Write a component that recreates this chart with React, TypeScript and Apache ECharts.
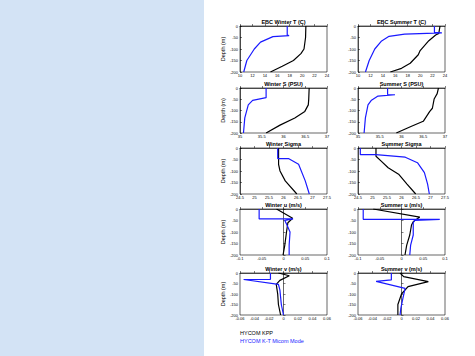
import React, { useEffect, useRef } from "react";
import * as echarts from "echarts";

// ---- data: [value, depth] pairs ----
const depthTicks = [0, -50, -100, -150, -200];
const titles = [
  ["EBC Winter T (C)", "EBC Summer T (C)"],
  ["Winter S (PSU)", "Summer S (PSU)"],
  ["Winter Sigma", "Summer Sigma"],
  ["Winter u (m/s)", "Summer u (m/s)"],
  ["Winter v (m/s)", "Summer v (m/s)"],
];
const legendNames = ["HYCOM KPP", "HYCOM K-T Micom Mode"];

const winterT_kpp = [[20.6, 0], [20.55, -50], [20.3, -100], [19.8, -120], [18.6, -150], [16.8, -175], [14.9, -200]];
const winterT_micom = [[17.6, 0], [17.6, -40], [17.9, -42], [15.3, -46], [13.3, -70], [12.3, -100], [11.1, -150], [10.6, -200]];
const summerT_kpp = [[23.2, 0], [23.0, -32], [22.5, -39], [21.4, -64], [20.0, -107], [19.7, -125], [18.4, -162], [17.0, -184], [15.2, -200]];
const summerT_micom = [[22.3, 0], [22.3, -28], [23.5, -30], [17.5, -35], [15.0, -45], [13.8, -65], [12.7, -100], [11.8, -150], [11.2, -200]];

const winterS_kpp = [[36.59, 0], [36.58, -50], [36.57, -75], [36.49, -104], [36.26, -133], [35.92, -165], [35.6, -200]];
const winterS_micom = [[35.6, 0], [35.6, -43], [35.29, -55], [35.19, -75], [35.11, -133], [35.08, -200]];
const summerS_kpp = [[36.85, 0], [36.82, -25], [36.75, -49], [36.71, -90], [36.65, -104], [36.5, -148], [36.23, -170], [35.88, -200]];
const summerS_micom = [[35.68, 0], [35.68, -29], [35.85, -30], [35.46, -36], [35.31, -54], [35.23, -75], [35.17, -133], [35.14, -200]];

const winterSig_kpp = [[25.83, 0], [25.83, -71], [25.88, -100], [26.06, -143], [26.46, -200]];
const winterSig_micom = [[25.8, 0], [25.8, -46], [26.17, -46], [26.52, -71], [26.75, -143], [26.89, -200]];
const summerSig_kpp = [[25.12, 0], [25.12, -36], [25.3, -57], [25.54, -86], [25.9, -114], [26.19, -157], [26.49, -200]];
const summerSig_micom = [[24.58, 0], [24.58, -29], [25.12, -29], [26.13, -40], [26.55, -64], [26.79, -107], [26.9, -157], [26.96, -200]];

const winterU_kpp = [[-0.016, 0], [0.021, -40], [0.01, -60], [0.007, -99], [0.003, -157], [-0.001, -200]];
const winterU_micom = [[-0.056, 0], [-0.056, -43], [0.022, -43], [0.003, -50], [0.008, -70], [0.015, -100], [0.013, -157], [0.013, -200]];
const summerU_kpp = [[-0.065, 0], [0.042, -35], [0.027, -55], [0.023, -70], [0.019, -113], [0.012, -157], [0.008, -200]];
const summerU_micom = [[-0.088, 0], [-0.088, -45], [0.088, -45], [0.03, -50], [0.027, -60], [0.027, -113], [0.021, -157], [0.019, -200]];

const winterV_kpp = [[-0.007, 0], [0.008, -13], [-0.005, -35], [-0.01, -54], [-0.008, -100], [-0.007, -150], [-0.004, -200]];
const winterV_micom = [[-0.018, 0], [-0.018, -30], [-0.055, -31], [-0.007, -54], [-0.005, -80], [-0.003, -150], [0, -200]];
const summerV_kpp = [[-0.002, 0], [0.003, -17], [0.037, -41], [0.009, -65], [0.0, -100], [-0.005, -150], [-0.005, -200]];
const summerV_micom = [[-0.014, 0], [-0.014, -33], [-0.035, -40], [0.005, -73], [0.002, -120], [-0.001, -170], [-0.002, -200]];

// x-axis ranges per row: [min, max, interval]
const xRanges = [
  [10, 24, 2],
  [35, 37, 0.5],
  [24.5, 27.5, 0.5],
  [-0.1, 0.1, 0.05],
  [-0.06, 0.06, 0.02],
];

const panelData = [
  [[winterT_kpp, winterT_micom], [summerT_kpp, summerT_micom]],
  [[winterS_kpp, winterS_micom], [summerS_kpp, summerS_micom]],
  [[winterSig_kpp, winterSig_micom], [summerSig_kpp, summerSig_micom]],
  [[winterU_kpp, winterU_micom], [summerU_kpp, summerU_micom]],
  [[winterV_kpp, winterV_micom], [summerV_kpp, summerV_micom]],
];

const COLORS = ["#000000", "#1a1aff"];
const FONT = "Liberation Sans";

// layout
const colLeft = [240, 358];
const plotW = 87;
const rowTop = [26, 88, 148, 209, 273];
const rowH = [46, 45, 46, 46, 42];

function fmt(v: number) {
  const r = Math.round(v * 1000) / 1000;
  return String(r);
}

export default function App() {
  const ref = useRef<HTMLDivElement>(null);
  useEffect(() => {
    if (!ref.current) return;
    const chart = echarts.init(ref.current, undefined, { renderer: "svg" });
    const grids: any[] = [];
    const xAxes: any[] = [];
    const yAxes: any[] = [];
    const series: any[] = [];
    const graphics: any[] = [
      { type: "rect", shape: { x: 0, y: 0, width: 204, height: 356 }, style: { fill: "#d3e3f5" }, z: -10 },
    ];
    let idx = 0;
    for (let r = 0; r < 5; r++) {
      for (let c = 0; c < 2; c++) {
        const [mn, mx, iv] = xRanges[r];
        grids.push({
          left: colLeft[c],
          top: rowTop[r],
          width: plotW,
          height: rowH[r],
          show: true,
          borderColor: "#000",
          borderWidth: 0.6,
          backgroundColor: "#fff",
        });
        xAxes.push({
          type: "value",
          gridIndex: idx,
          min: mn,
          max: mx,
          interval: iv,
          axisLine: { show: true, lineStyle: { color: "#000", width: 0.6 } },
          axisTick: { show: true, inside: true, length: 2, lineStyle: { color: "#000", width: 0.5 } },
          splitLine: { show: false },
          axisLabel: { fontSize: 4, color: "#000", margin: 1.5, fontFamily: FONT, formatter: (v: number) => fmt(v), showMinLabel: true, showMaxLabel: true },
        });
        yAxes.push({
          type: "value",
          gridIndex: idx,
          min: -200,
          max: 0,
          interval: 50,
          name: c === 0 ? "Depth (m)" : "",
          nameLocation: "middle",
          nameGap: 12,
          nameRotate: 90,
          nameTextStyle: { fontSize: 5.5, color: "#000", fontFamily: FONT },
          axisLine: { show: true, lineStyle: { color: "#000", width: 0.6 } },
          axisTick: { show: true, inside: true, length: 2, lineStyle: { color: "#000", width: 0.5 } },
          splitLine: { show: false },
          axisLabel: { fontSize: 4, color: "#000", margin: 2, fontFamily: FONT, showMinLabel: true, showMaxLabel: true },
        });
        const [kpp, micom] = panelData[r][c];
        [kpp, micom].forEach((d, k) => {
          series.push({
            type: "line",
            name: legendNames[k],
            xAxisIndex: idx,
            yAxisIndex: idx,
            data: d,
            showSymbol: false,
            symbol: "none",
            lineStyle: { color: COLORS[k], width: 1.2 },
            z: 2 + k,
          });
        });
        graphics.push({
          type: "text",
          x: colLeft[c] + plotW / 2,
          y: rowTop[r] - 1.5,
          style: {
            text: titles[r][c],
            fontSize: 5.5,
            fontWeight: "bold",
            fontFamily: FONT,
            fill: "#000",
            align: "center",
            verticalAlign: "bottom",
          },
        });
        idx++;
      }
    }
    graphics.push({
      type: "text",
      x: 240,
      y: 333,
      style: { text: legendNames[0], fontSize: 5.5, fontFamily: FONT, fill: COLORS[0], verticalAlign: "middle" },
    });
    graphics.push({
      type: "text",
      x: 240,
      y: 341,
      style: { text: legendNames[1], fontSize: 5.5, fontFamily: FONT, fill: COLORS[1], verticalAlign: "middle" },
    });
    chart.setOption({
      animation: false,
      backgroundColor: "#fff",
      grid: grids,
      xAxis: xAxes,
      yAxis: yAxes,
      series,
      graphic: graphics,
    });
    return () => chart.dispose();
  }, []);
  return (
    <div
      ref={ref}
      style={{ position: "absolute", left: 0, top: 0, width: 475, height: 356 }}
    />
  );
}
